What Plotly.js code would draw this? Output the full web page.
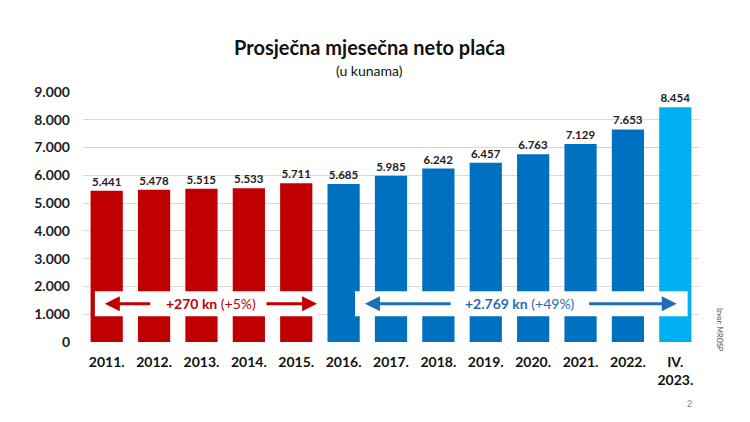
<!DOCTYPE html>
<html><head><meta charset="utf-8">
<script src="https://cdn.plot.ly/plotly-3.0.1.min.js"></script>
<style>html,body{margin:0;padding:0;background:#fff}#c{width:750px;height:422px}</style>
</head><body><div id="c"></div>
<script>
const categories = ['2011.','2012.','2013.','2014.','2015.','2016.','2017.','2018.','2019.','2020.','2021.','2022.','IV.<br>2023.'];
const values = [5441,5478,5515,5533,5711,5685,5985,6242,6457,6763,7129,7653,8454];
const barColors = ['#C00000','#C00000','#C00000','#C00000','#C00000','#0070C0','#0070C0','#0070C0','#0070C0','#0070C0','#0070C0','#0070C0','#00B0F0'];
const yTicks = [0,1000,2000,3000,4000,5000,6000,7000,8000,9000];
const F = 'Lato, "Open Sans", sans-serif';
const red = '#C00000', blue = '#1F6DB5';

const trace = {
  type:'bar', x:categories, y:values,
  marker:{color:barColors},
  texttemplate:'%{y:,d}', textposition:'outside', cliponaxis:false,
  textfont:{family:F, size:11.5, color:'#222', weight:'bold'},
  hoverinfo:'none'
};

function arrow(xh, xt, color){
  return {xref:'x', yref:'y', axref:'x', ayref:'y', x:xh, y:1380, ax:xt, ay:1380,
    text:'', showarrow:true, arrowhead:2, arrowsize:1, arrowwidth:3, arrowcolor:color};
}

const layout = {
  width:750, height:422,
  margin:{l:83, r:51, t:92, b:80},
  paper_bgcolor:'#fff', plot_bgcolor:'#fff',
  separators:',.',
  bargap:0.32,
  showlegend:false,
  font:{family:F},
  xaxis:{type:'category', tickfont:{family:F, size:14, color:'#111', weight:'bold'},
    showline:false, ticks:'', showgrid:false, ticklabelstandoff:10},
  yaxis:{range:[0,9000], tickvals:yTicks, tickformat:',d', tickfont:{family:F, size:14, color:'#222', weight:'bold'},
    showgrid:true, gridcolor:'#d9d9d9', gridwidth:1, zeroline:false, ticks:'', ticklen:0, ticklabelstandoff:12},
  shapes:[
    {type:'rect', xref:'x', yref:'y', x0:-0.25, x1:4.46, y0:930, y1:1830, fillcolor:'#fff', line:{width:0}, layer:'above'},
    {type:'rect', xref:'x', yref:'y', x0:5.24, x1:12.26, y0:930, y1:1830, fillcolor:'#fff', line:{width:0}, layer:'above'}
  ],
  annotations:[
    {xref:'paper', yref:'paper', x:0.465, y:1.18, text:'<b>Prosječna mjesečna neto plaća</b>', showarrow:false,
      font:{family:F, size:20, color:'#111'}, xanchor:'center', yanchor:'middle'},
    {xref:'paper', yref:'paper', x:0.465, y:1.084, text:'(u kunama)', showarrow:false,
      font:{family:F, size:14, color:'#111'}, xanchor:'center', yanchor:'middle'},
    arrow(-0.04, 0.95, red), arrow(4.44, 3.34, red),
    {xref:'x', yref:'y', x:2.2, y:1380, text:'<b>+270 kn</b> (+5%)', showarrow:false,
      font:{family:F, size:14, color:red}},
    arrow(5.45, 7.29, blue), arrow(12.03, 10.15, blue),
    {xref:'x', yref:'y', x:8.73, y:1380, text:'<b>+2.769 kn</b> (+49%)', showarrow:false,
      font:{family:F, size:14, color:blue}},
    {xref:'paper', yref:'paper', x:1.035, y:0.05, text:'Izvor: MROSP', textangle:90, showarrow:false,
      font:{family:F, size:7, color:'#444'}, xanchor:'center', yanchor:'middle'},
    {xref:'paper', yref:'paper', x:0.985, y:-0.245, text:'2', showarrow:false,
      font:{family:F, size:9, color:'#888'}, xanchor:'center', yanchor:'middle'}
  ]
};
Plotly.newPlot('c',[trace],layout,{displayModeBar:false, staticPlot:true});
</script></body></html>
